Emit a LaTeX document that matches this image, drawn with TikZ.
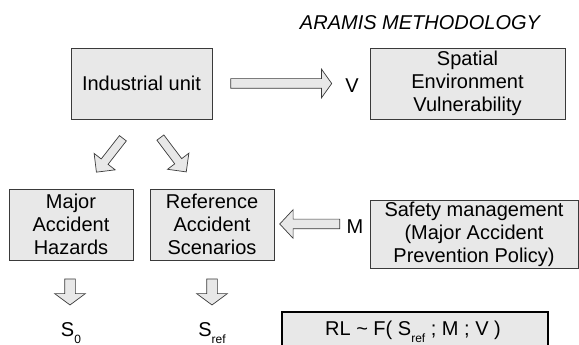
\documentclass[tikz,border=0pt]{standalone}
\usepackage{fontspec}
\setmainfont{Liberation Sans}
\usetikzlibrary{positioning, shapes.arrows, calc}

\definecolor{boxgray}{HTML}{E8E8E8}
\definecolor{edgegray}{HTML}{3A3A3A}
\newcommand{\lowidx}[1]{\raisebox{-0.35em}{\fontsize{12}{12}\selectfont #1}}

\begin{document}
\begin{tikzpicture}[
    x=1pt, y=1pt,
    font=\fontsize{20}{23}\selectfont,
    block/.style={
        rectangle, draw=edgegray, line width=0.8pt, fill=boxgray,
        align=center, inner sep=0pt, minimum height=71pt
    },
    hollow/.style={
        single arrow, draw=edgegray, line width=0.7pt, fill=boxgray,
        inner sep=0pt, minimum width=0pt
    }
]
\useasboundingbox (0,0) rectangle (579,345);
\clip (0,0) rectangle (579,345);

% title
\node[anchor=base, font=\fontsize{20}{23}\selectfont\itshape] (title) at (420,315) {ARAMIS METHODOLOGY};

% top row
\node[block, minimum width=141pt] (unit) at (141.5,261.5) {Industrial unit};
\node[block, minimum width=195pt] (spatial) at (467.5,261.5) {Spatial\\Environment\\Vulnerability};
\node[hollow, inner ysep=4.5pt, single arrow head extend=9.5pt,
      single arrow tip angle=109, minimum height=101pt] (arrV) at (279.5,261.5) {};
\node (labV) at (352,259.5) {V};

% split from the unit
\node[hollow, inner ysep=4pt, single arrow head extend=9pt,
      single arrow tip angle=90, minimum height=43pt, rotate=232] (arrL) at (111,191.5) {};
\node[hollow, inner ysep=4pt, single arrow head extend=9pt,
      single arrow tip angle=90, minimum height=43pt, rotate=-53] (arrR) at (172,192) {};

% middle row
\node[block, minimum width=124pt] (hazards) at (71,120.5) {Major\\Accident\\Hazards};
\node[block, minimum width=124pt] (scenarios) at (212,120.5) {Reference\\Accident\\Scenarios};
\node[block, minimum width=208pt, minimum height=68pt] (safety) at (474,111) {Safety management\\(Major Accident\\Prevention Policy)};
\node[hollow, inner ysep=4.5pt, single arrow head extend=9.5pt,
      single arrow tip angle=94, minimum height=60pt, rotate=180] (arrM) at (312,121) {};
\node (labM) at (355,118.5) {M};

% outputs
\node[hollow, inner ysep=5pt, single arrow head extend=10pt,
      single arrow tip angle=107, minimum height=26pt, rotate=-90] (downH) at (70,55) {};
\node[hollow, inner ysep=5pt, single arrow head extend=10pt,
      single arrow tip angle=107, minimum height=26pt, rotate=-90] (downS) at (212,55) {};
\node[anchor=base] (szero) at (71,8) {S\lowidx{0}};
\node[anchor=base] (sref) at (212,8) {S\lowidx{ref}};

% risk level
\node[rectangle, draw=black, line width=1.8pt, fill=boxgray,
      minimum width=266pt, minimum height=36pt] (rlbox) at (415,15) {};
\node[anchor=base] (rltext) at (413,9) {RL \textasciitilde\ F( S\lowidx{ref} ; M ; V )};

\end{tikzpicture}
\end{document}
